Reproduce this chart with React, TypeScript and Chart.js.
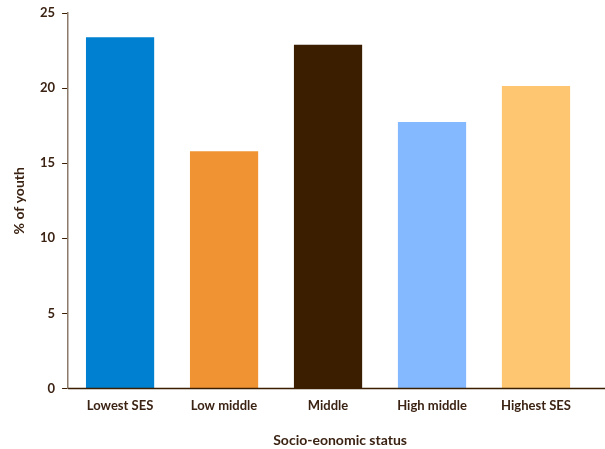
import React, { useEffect, useRef } from "react";
import { Chart, registerables } from "chart.js";

Chart.register(...registerables);

const categories = ["Lowest SES", "Low middle", "Middle", "High middle", "Highest SES"];
const values = [23.4, 15.8, 22.9, 17.75, 20.15];
const barColors = ["#0080D0", "#F09433", "#3B1E00", "#84B8FF", "#FEC671"];
const yTicks = [0, 5, 10, 15, 20, 25];
const xTitle = "Socio-eonomic status";
const yTitle = "% of youth";

const textColor = "#3B2314";
const fontFamily = "Lato, 'Open Sans', sans-serif";

const extras = {
  id: "extras",
  afterDraw(chart: any) {
    const { ctx, chartArea } = chart;
    ctx.save();
    // x axis line across the full width
    ctx.strokeStyle = "#3B1E00";
    ctx.lineWidth = 1.5;
    ctx.beginPath();
    ctx.moveTo(chartArea.left, chartArea.bottom);
    ctx.lineTo(chart.width, chartArea.bottom);
    ctx.stroke();
    // titles
    ctx.fillStyle = textColor;
    ctx.font = `bold 14px ${fontFamily}`;
    ctx.textAlign = "center";
    ctx.textBaseline = "middle";
    ctx.fillText(xTitle, chartArea.left + 272, chartArea.bottom + 52);
    ctx.translate(19.5, (chartArea.top + chartArea.bottom) / 2);
    ctx.rotate(-Math.PI / 2);
    ctx.fillText(yTitle, 0, 0);
    ctx.restore();
  },
};

export default function App() {
  const ref = useRef<HTMLCanvasElement>(null);
  useEffect(() => {
    document.body.style.margin = "0";
    const chart = new Chart(ref.current!, {
      type: "bar",
      data: {
        labels: categories,
        datasets: [
          {
            data: values,
            backgroundColor: barColors,
            barPercentage: 0.656,
            categoryPercentage: 1,
          },
        ],
      },
      options: {
        animation: false,
        responsive: false,
        maintainAspectRatio: false,
        layout: { padding: { top: 1, right: 17, left: 33, bottom: 25 } },
        plugins: { legend: { display: false }, tooltip: { enabled: false } },
        scales: {
          x: {
            grid: { display: false, drawTicks: false },
            border: { display: false },
            ticks: {
              color: textColor,
              font: { family: fontFamily, size: 13, weight: "bold" },
              padding: 10,
            },
          },
          y: {
            min: 0,
            max: 25,
            afterBuildTicks: (axis: any) => {
              axis.ticks = yTicks.map((v) => ({ value: v }));
            },
            grid: {
              drawOnChartArea: false,
              drawTicks: true,
              tickLength: 6,
              color: "#3B1E00",
            },
            border: { display: true, color: "#8C7B6B", width: 1.5 },
            ticks: {
              color: textColor,
              font: { family: fontFamily, size: 13, weight: "bold", lineHeight: 0.95 },
              padding: 7,
            },
          },
        },
      },
      plugins: [extras],
    });
    return () => chart.destroy();
  }, []);
  return (
    <div style={{ width: 605, height: 449 }}>
      <canvas ref={ref} width={605} height={449} style={{ display: "block" }} />
    </div>
  );
}
